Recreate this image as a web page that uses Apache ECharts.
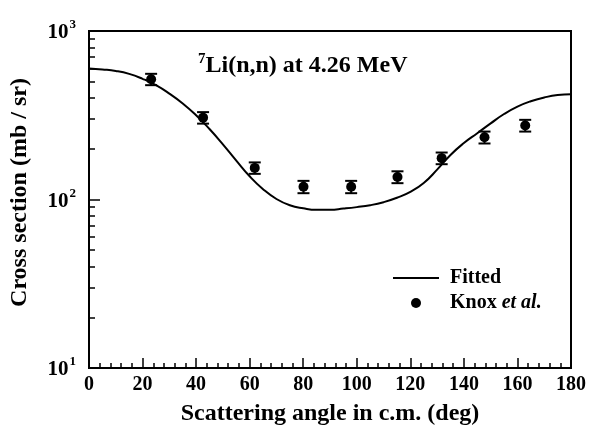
<!DOCTYPE html>
<html>
<head>
<meta charset="utf-8">
<script src="https://cdn.jsdelivr.net/npm/echarts@6/dist/echarts.min.js"></script>
<style>
  html, body { margin: 0; padding: 0; background: #fff; }
  #chart { width: 589px; height: 431px; }
</style>
</head>
<body>
<div id="chart"></div>
<script>
// fitted curve, every 5 deg
const fitAngles = [0, 5, 10, 15, 20, 25, 30, 35, 40, 45, 50, 55, 60, 65, 70, 75, 80, 85, 90,
  95, 100, 105, 110, 115, 120, 125, 130, 135, 140, 145, 150, 155, 160, 165, 170, 175, 180];
const fitValues = [599.5, 591.5, 579.7, 556.8, 520.4, 476.9, 425.3, 371.7, 316.2, 261.9, 212.6, 170.2, 137.3,
  115.2, 100.7, 92.4, 88.6, 86.8, 86.9, 88.3, 90.1, 92.5, 96.4, 102.4, 111.0, 125.3, 150.3, 183.9,
  216.2, 247.3, 282.9, 321.6, 355.9, 383.1, 403.1, 416.8, 421.1];

// Knox et al. measured points
const knoxAngles = [23.2, 42.6, 61.9, 80.1, 97.9, 115.2, 131.7, 147.7, 162.9];
const knoxValues = [517, 306, 154, 119, 119, 136, 176, 234, 275];
const knoxErrors = [40, 24, 12, 10, 10, 11, 14, 19, 22];

const yMajorTicks = [10, 100, 1000];
const yMinorTicks = [20, 30, 40, 50, 60, 70, 80, 90, 200, 300, 400, 500, 600, 700, 800, 900];

const FONT = '"Liberation Serif", "DejaVu Serif", serif';

const fitData = fitAngles.map((a, i) => [a, fitValues[i]]);
const knoxData = knoxAngles.map((a, i) => [a, knoxValues[i]]);
const errData = knoxAngles.map((a, i) => [a, knoxValues[i] - knoxErrors[i], knoxValues[i] + knoxErrors[i]]);

const chart = echarts.init(document.getElementById('chart'), null, { renderer: 'canvas' });

const option = {
  animation: false,
  backgroundColor: '#fff',
  title: {
    left: 193,
    top: 47,
    text: '{s|7}{t|Li(n,n) at 4.26 MeV}',
    textStyle: {
      rich: {
        s: { fontFamily: FONT, fontWeight: 'bold', fontSize: 15, color: '#000', padding: [0, 0, 13, 0] },
        t: { fontFamily: FONT, fontWeight: 'bold', fontSize: 24, color: '#000' }
      }
    }
  },
  legend: {
    orient: 'vertical',
    left: 387,
    top: 263,
    itemWidth: 46,
    itemHeight: 10,
    itemGap: 5,
    textStyle: {
      fontFamily: FONT, fontWeight: 'bold', fontSize: 20, color: '#000', padding: [0, 0, 0, 6],
      rich: {
        n: { fontFamily: FONT, fontWeight: 'bold', fontSize: 20, lineHeight: 20, color: '#000' },
        i: { fontFamily: FONT, fontWeight: 'bold', fontStyle: 'italic', fontSize: 20, lineHeight: 20, color: '#000' }
      }
    },
    formatter: name => name === 'Knox' ? '{n|Knox }{i|et al.}' : '{n|' + name + '}',
    data: [
      { name: 'Fitted', itemStyle: { opacity: 0 } },
      { name: 'Knox', icon: 'circle' }
    ]
  },
  grid: {
    left: 89, right: 18, top: 31, bottom: 58,
    show: true, borderColor: '#000', borderWidth: 2, backgroundColor: 'transparent'
  },
  xAxis: {
    type: 'value',
    min: 0, max: 180, interval: 20,
    name: 'Scattering angle in c.m. (deg)',
    nameLocation: 'middle',
    nameGap: 34,
    nameTextStyle: { fontFamily: FONT, fontWeight: 'bold', fontSize: 24, color: '#000' },
    axisLine: { show: true, lineStyle: { color: '#000', width: 2 } },
    axisTick: { inside: true, length: 10, lineStyle: { color: '#000', width: 1.5 } },
    minorTick: { show: true, splitNumber: 5, length: 5, lineStyle: { color: '#000', width: 1.5 } },
    splitLine: { show: false },
    axisLabel: { margin: 7, fontFamily: FONT, fontWeight: 'bold', fontSize: 20, color: '#000' }
  },
  yAxis: [
    {
      type: 'log', logBase: 10, min: 10, max: 1000,
      name: 'Cross section (mb / sr)',
      nameLocation: 'middle',
      nameGap: 57,
      nameRotate: 90,
      nameTextStyle: { fontFamily: FONT, fontWeight: 'bold', fontSize: 24, color: '#000', padding: [0, 0, 0, 14] },
      axisLine: { show: true, lineStyle: { color: '#000', width: 2 } },
      axisTick: { inside: true, length: 11, customValues: yMajorTicks, lineStyle: { color: '#000', width: 1.5 } },
      splitLine: { show: false },
      axisLabel: {
        margin: 13,
        customValues: yMajorTicks,
        formatter: v => '{b|10}{e|' + Math.round(Math.log10(v)) + '}',
        rich: {
          b: { fontFamily: FONT, fontWeight: 'bold', fontSize: 21, color: '#000', padding: [4, 0, 0, 0] },
          e: { fontFamily: FONT, fontWeight: 'bold', fontSize: 13, color: '#000', padding: [0, 0, 12, 1] }
        }
      }
    },
    {
      type: 'log', logBase: 10, min: 10, max: 1000,
      position: 'left',
      axisLine: { show: false },
      axisTick: { inside: true, length: 6, customValues: yMinorTicks, lineStyle: { color: '#000', width: 1.5 } },
      axisLabel: { show: false },
      splitLine: { show: false }
    }
  ],
  series: [
    {
      name: 'Fitted',
      type: 'line',
      data: fitData,
      smooth: true,
      showSymbol: false,
      symbol: 'none',
      lineStyle: { color: '#000', width: 2 },
      itemStyle: { color: '#000' },
      z: 3
    },
    {
      name: 'Knox-err',
      type: 'custom',
      data: errData,
      renderItem: (params, api) => {
        const x = api.value(0);
        const lo = api.coord([x, api.value(1)]);
        const hi = api.coord([x, api.value(2)]);
        const half = 6;
        const style = { stroke: '#000', lineWidth: 2 };
        return {
          type: 'group',
          children: [
            { type: 'line', shape: { x1: lo[0], y1: lo[1], x2: hi[0], y2: hi[1] }, style },
            { type: 'line', shape: { x1: lo[0] - half, y1: lo[1], x2: lo[0] + half, y2: lo[1] }, style },
            { type: 'line', shape: { x1: hi[0] - half, y1: hi[1], x2: hi[0] + half, y2: hi[1] }, style }
          ]
        };
      },
      z: 4
    },
    {
      name: 'Knox',
      type: 'scatter',
      data: knoxData,
      symbol: 'circle',
      symbolSize: 10,
      itemStyle: { color: '#000', opacity: 1 },
      z: 5
    }
  ]
};

chart.setOption(option);
</script>
</body>
</html>
